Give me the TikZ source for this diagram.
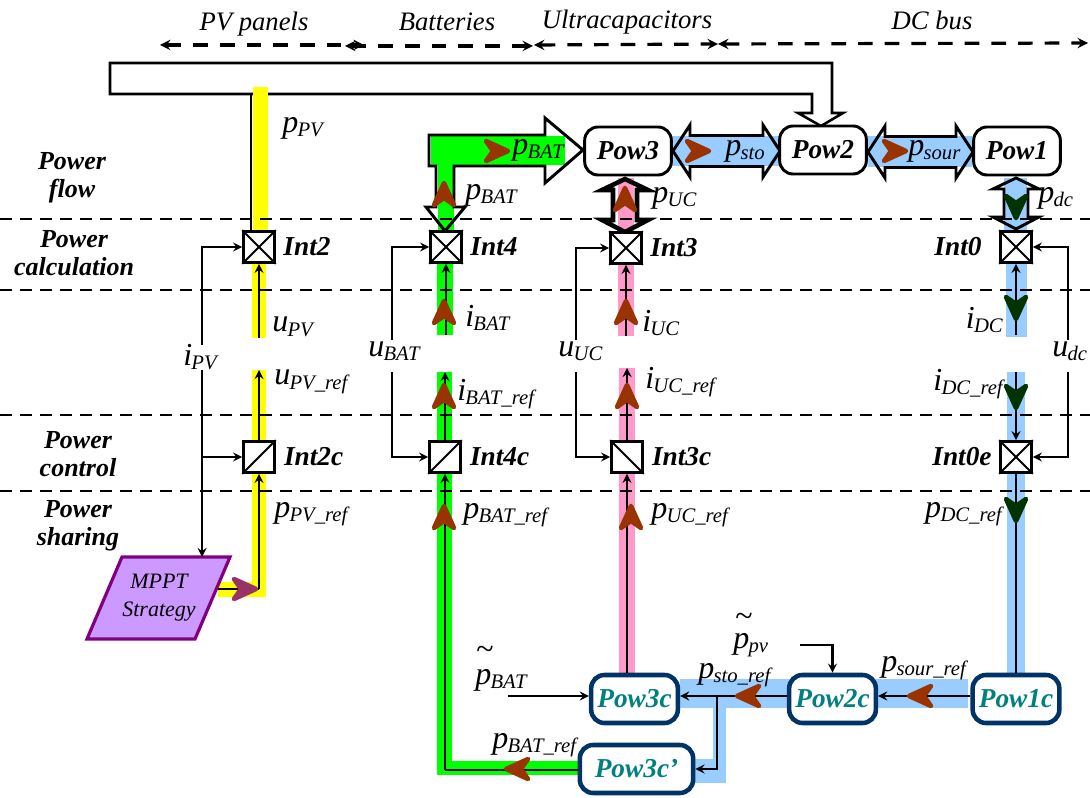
\documentclass[tikz,border=0pt]{standalone}
\usepackage{fontspec}
\setmainfont{Liberation Serif}
\definecolor{bandg}{HTML}{00FF00}
\definecolor{bandy}{HTML}{FFFF00}
\definecolor{bandb}{HTML}{99CCFF}
\definecolor{bandp}{HTML}{FF99CC}
\definecolor{tipbr}{HTML}{993300}
\definecolor{tipdg}{HTML}{003300}
\definecolor{tippu}{HTML}{993366}
\definecolor{navyc}{HTML}{003366}
\definecolor{tealc}{HTML}{008080}
\definecolor{mpptf}{HTML}{CC99FF}
\definecolor{mpptd}{HTML}{800080}
\newcommand{\sig}[2]{{\fontsize{24}{24}\selectfont\itshape #1\kern-0.5pt\raisebox{-0.3ex}{\fontsize{15.5}{15.5}\selectfont #2}}}
\newcommand{\flowtip}[4]{\draw[-,draw=#4,fill=#4,line width=3.4pt,line join=round,shift={(#1,#2)},rotate=#3] (11,0) -- (-11,-10) -- (-4,0) -- (-11,10) -- cycle;}
\newcommand{\dblh}[3]{\draw[outl] (#1,#3) -- ++(17,-26) -- ++(0,10.5) -- (#2-17,#3-15.5) -- ++(0,-10.5) -- (#2,#3) -- ++(-17,26) -- ++(0,-10.5) -- (#1+17,#3+15.5) -- ++(0,10.5) -- cycle;}
\newcommand{\dblv}[3]{\draw[outl] (#1,#2) -- ++(23,11) -- ++(-11,0) -- (#1+12,#3-12) -- ++(11,0) -- (#1,#3) -- ++(-23,-12) -- ++(11,0) -- (#1-12,#2+11) -- ++(-11,0) -- cycle;}
\begin{document}
\begin{tikzpicture}[->,>=stealth,x=0.75pt,y=-0.75pt,node distance=36pt,
  sigline/.style={line width=2pt},
  outl/.style={-,line width=2.2pt,line join=miter},
  sepline/.style={-,line width=2.1pt,dash pattern=on 9pt off 6pt},
  spanline/.style={<->,line width=2.4pt,dash pattern=on 11pt off 9pt},
  intbox/.style={draw,line width=2.2pt,fill=white,minimum size=23pt,inner sep=0pt},
  powbox/.style={draw,line width=2.2pt,fill=white,rounded corners=10pt,minimum width=65pt,minimum height=36pt,inner sep=0pt,font=\fontsize{20.5}{20.5}\selectfont\bfseries\itshape},
  ctrbox/.style={draw=navyc,line width=3.4pt,fill=white,rounded corners=10pt,minimum width=65pt,minimum height=36pt,inner sep=0pt,text=tealc,font=\fontsize{20.5}{20.5}\selectfont\bfseries\itshape},
  intlbl/.style={inner sep=0pt,font=\fontsize{20.5}{20.5}\selectfont\bfseries\itshape},
  laylbl/.style={inner sep=0pt,align=center,font=\fontsize{19.5}{21}\selectfont\bfseries\itshape},
  toplbl/.style={inner sep=0pt,font=\fontsize{20}{20}\selectfont\itshape},
  siglbl/.style={inner sep=0pt,anchor=west},
  tildelbl/.style={inner sep=0pt,font=\fontsize{24}{8}\selectfont}]
\useasboundingbox (0,0) rectangle (1090,798);
% big arrow from the PV panels
\draw[outl,line width=1.9pt] (110,63) -- (832,63) -- (832,113) -- (843,113) -- (821,126) -- (798,113) -- (812,113) -- (812,94) -- (110,94) -- cycle;
\draw[-,line width=1.9pt] (251,94) -- (251,232);
% bands
\fill[bandy] (253,87) rectangle (268,232);
\fill[bandy] (252,264) rectangle (266,338);
\fill[bandy] (252,370) rectangle (266,597);
\fill[bandy] (218,582) rectangle (266,597);
\fill[bandg] (431,136) rectangle (565,165);
\fill[bandg] (438,165) rectangle (454,232);
\fill[bandg] (437,264) rectangle (453,335);
\fill[bandg] (437,372) rectangle (452,775);
\fill[bandg] (437,761) rectangle (582,775);
\fill[bandp] (618,178) rectangle (634,336);
\fill[bandp] (619,368) rectangle (635,675);
\fill[bandb] (672,136) rectangle (780,166);
\fill[bandb] (868,136) rectangle (972,167);
\fill[bandb] (1004,178) rectangle (1027,232);
\fill[bandb] (1006,264) rectangle (1027,337);
\fill[bandb] (1007,372) rectangle (1025,675);
\fill[bandb] (680,679) rectangle (968,708);
\fill[bandb] (713,708) rectangle (726,783);
\fill[bandb] (690,759) rectangle (726,783);
% layers
\foreach \y in {219,290,415,491}
  \draw[sepline] (0,\y) -- (1090,\y);
\coordinate (sp0) at (160,45); \coordinate (sp1) at (364,45);
\coordinate (sp2) at (345,46); \coordinate (sp3) at (533,46);
\coordinate (sp4) at (534,45); \coordinate (sp5) at (718,44);
\coordinate (sp6) at (1088,43);
\draw[spanline] (sp0) -- (sp1); \draw[spanline] (sp2) -- (sp3);
\draw[spanline] (sp4) -- (sp5); \draw[spanline] (sp5) -- (sp6);
\node[toplbl] (tpv) at (254,24) {PV panels};
\node[toplbl] (tba) at (447,22) {Batteries};
\node[toplbl] (tuc) at (627,22) {Ultracapacitors};
\node[toplbl] (tdc) at (932,20) {DC bus};
\node[laylbl] (lflow) at (72,178) {Power\\flow};
\node[laylbl] (lcalc) at (74,253) {Power\\calculation};
\node[laylbl] (lctrl) at (78,454) {Power\\control};
\node[laylbl] (lshar) at (78,526) {Power\\sharing};
% outlined power arrows
\draw[outl] (429,135) -- (545,135) -- (545,118) -- (583,150) -- (545,183) -- (545,166) -- (454,166) -- (454,207) -- (465,207) -- (445,231) -- (426,207) -- (436,207) -- (436,166) -- (429,166) -- cycle;
\dblh{673}{780}{151}
\dblh{868}{973}{152}
\begin{scope}[outl/.append style={line width=3.4pt}]
\dblv{625}{179}{232}
\end{scope}
\dblv{1016}{178}{229}
% blocks
\node[powbox] (pow3) at (628,151) {Pow3};
\node[powbox] (pow2) at (823,150) {Pow2};
\node[powbox] (pow1) at (1017,151) {Pow1};
\node[intbox] (int2) at (259,247) {};
\node[intbox] (int4) at (446,247) {};
\node[intbox] (int3) at (626,248) {};
\node[intbox] (int0) at (1016,247) {};
\node[intbox] (int2c) at (259,457) {};
\node[intbox] (int4c) at (445,457) {};
\node[intbox] (int3c) at (627,457) {};
\node[intbox] (int0e) at (1016,457) {};
\foreach \b in {int2,int4,int3,int0,int0e} {
  \draw[-,line width=1.5pt] (\b.north west) -- (\b.south east);
  \draw[-,line width=1.5pt] (\b.south west) -- (\b.north east);
}
\foreach \b in {int2c,int4c}
  \draw[-,line width=1.5pt] (\b.south west) -- (\b.north east);
\draw[-,line width=1.5pt] (int3c.north west) -- (int3c.south east);
\node[intlbl,right of=int2] (nint2) {Int2};
\node[intlbl,right of=int4] (nint4) {Int4};
\node[intlbl,right of=int3] (nint3) {Int3};
\node[intlbl,left of=int0,node distance=43.5pt] (nint0) {Int0};
\node[intlbl,right of=int2c,node distance=41pt] (nint2c) {Int2c};
\node[intlbl,right of=int4c,node distance=41pt] (nint4c) {Int4c};
\node[intlbl,right of=int3c,node distance=41pt] (nint3c) {Int3c};
\node[intlbl,left of=int0e,node distance=40.5pt] (nint0e) {Int0e};
\node[ctrbox] (pow3c) at (634.5,699) {Pow3c};
\node[ctrbox] (pow2c) at (832.5,699) {Pow2c};
\node[ctrbox] (pow1c) at (1016,699) {Pow1c};
\node[ctrbox,minimum width=85pt] (pow3cp) at (636.5,769) {Pow3c'};
% MPPT
\draw[outl,draw=mpptd,fill=mpptf,line width=2.4pt,line join=miter] (122,557) -- (230,557) -- (195,639) -- (87,639) -- cycle;
\node[inner sep=0pt,align=center,font=\fontsize{16.5}{21}\selectfont\itshape] (mppt) at (159,598) {MPPT\\Strategy};
% signal lines
\coordinate (a2) at (259,338); \coordinate (a2r) at (259,370);
\coordinate (a4) at (446,335); \coordinate (a4r) at (445,372);
\coordinate (a3) at (626,336); \coordinate (a3r) at (627,368);
\coordinate (a0) at (1016,335); \coordinate (a0r) at (1016,372);
\coordinate (mp) at (218,589); \coordinate (mk) at (259,589);
\draw[sigline] (a2) -- (int2.south);
\draw[sigline] (int2c.north) -- (a2r);
\draw[sigline] (mk) -- (int2c.south);
\draw[-,sigline] (mp) -- (mk);
\draw[sigline] (a4) -- (int4.south);
\draw[sigline] (int4c.north) -- (a4r);
\draw[sigline] (a3) -- (int3.south);
\draw[sigline] (int3c.north) -- (a3r);
\draw[sigline] (a0) -- (int0.south);
\draw[sigline] (a0r) -- (int0e.north);
\draw[-,sigline] (pow1c.north) -- (int0e.south);
\draw[sigline] (pow3c.north -| int3c) -- (int3c.south);
\coordinate (k4) at (445,770);
\draw[-,sigline] (pow3cp.west |- k4) -- (k4);
\draw[sigline] (k4) -- (int4c.south);
\coordinate (ipv1) at (202,345); \coordinate (ipv2) at (202,370);
\coordinate (ipv3) at (202,457);
\draw[sigline] (ipv1) |- (int2.west);
\draw[sigline] (ipv2) -- (202,557);
\draw[sigline] (ipv3) -- (int2c.west);
\coordinate (ub1) at (392,340); \coordinate (ub2) at (392,372);
\draw[sigline] (ub1) |- (int4.west);
\draw[sigline] (ub2) |- (int4c.west);
\coordinate (uu1) at (576,340); \coordinate (uu2) at (576,372);
\draw[sigline] (uu1) |- (int3.west);
\draw[sigline] (uu2) |- (int3c.west);
\coordinate (ud1) at (1068,340); \coordinate (ud2) at (1068,372);
\draw[sigline] (ud1) |- (int0.east);
\draw[sigline] (ud2) |- (int0e.east);
\coordinate (br) at (717,696);
\draw[sigline] (pow1c.west |- br) -- (pow2c.east |- br);
\draw[sigline] (pow2c.west |- br) -- (pow3c.east |- br);
\draw[sigline] (br) |- (pow3cp.east);
\coordinate (pvin) at (800,645);
\draw[sigline] (pvin) -| (pow2c.north);
\coordinate (bin) at (508,696);
\draw[sigline] (bin) -- (pow3c.west |- bin);
% flow tips
\flowtip{497}{151}{0}{tipbr}
\flowtip{698}{151}{0}{tipbr}
\flowtip{895}{151}{0}{tipbr}
\flowtip{444}{194}{90}{tipbr}
\flowtip{625}{199}{90}{tipbr}
\flowtip{444}{312}{90}{tipbr}
\flowtip{626}{312}{90}{tipbr}
\flowtip{444}{396}{90}{tipbr}
\flowtip{627}{396}{90}{tipbr}
\flowtip{444}{517}{90}{tipbr}
\flowtip{631}{517}{90}{tipbr}
\flowtip{1016}{207}{-90}{tipdg}
\flowtip{1016}{308}{-90}{tipdg}
\flowtip{1016}{397}{-90}{tipdg}
\flowtip{1016}{510}{-90}{tipdg}
\flowtip{245}{589}{0}{tippu}
\flowtip{748}{696}{180}{tipbr}
\flowtip{920}{696}{180}{tipbr}
\flowtip{517}{769}{180}{tipbr}
% signal names
\node[siglbl] (lppv) at (282,128) {\sig{p}{PV}};
\node[siglbl] (lpb1) at (512,150) {\sig{p}{BAT}};
\node[siglbl] (lpb2) at (465,195) {\sig{p}{BAT}};
\node[siglbl] (lpuc) at (652,198) {\sig{p}{UC}};
\node[siglbl] (lpst) at (725,151) {\sig{p}{sto}};
\node[siglbl] (lpso) at (908,151) {\sig{p}{sour}};
\node[siglbl] (lpdc) at (1038,198) {\sig{p}{dc}};
\node[siglbl] (lupv) at (272,327) {\sig{u}{PV}};
\node[siglbl] (libt) at (465,318) {\sig{i}{BAT}};
\node[siglbl] (liuc) at (642,323) {\sig{i}{UC}};
\node[siglbl,anchor=east] (lidc) at (1003,320) {\sig{i}{DC}};
\node[siglbl] (lubt) at (368,351) {\sig{u}{BAT}};
\node[siglbl] (luuc) at (558,351) {\sig{u}{UC}};
\node[siglbl] (ludc) at (1052,351) {\sig{u}{dc}};
\node[siglbl] (lipv) at (183,357) {\sig{i}{PV}};
\node[siglbl] (luvr) at (274,382) {\sig{u}{PV\_ref}};
\node[siglbl] (libr) at (457,394) {\sig{i}{BAT\_ref}};
\node[siglbl] (liur) at (645,382) {\sig{i}{UC\_ref}};
\node[siglbl,anchor=east] (lidr) at (1003,384) {\sig{i}{DC\_ref}};
\node[siglbl] (lpvr) at (274,514) {\sig{p}{PV\_ref}};
\node[siglbl] (lpbr) at (463,515) {\sig{p}{BAT\_ref}};
\node[siglbl] (lpur) at (651,515) {\sig{p}{UC\_ref}};
\node[siglbl,anchor=east] (lpdr) at (1002,514) {\sig{p}{DC\_ref}};
\node[siglbl] (lpsr) at (698,675) {\sig{p}{sto\_ref}};
\node[siglbl] (lpor) at (881,668) {\sig{p}{sour\_ref}};
\node[siglbl] (lpbq) at (492,745) {\sig{p}{BAT\_ref}};
\node[siglbl] (lptb) at (475,680) {\sig{p}{BAT}};
\node[siglbl] (lptp) at (733,645) {\sig{p}{pv}};
\node[tildelbl] (tldb) at (485,653) {\char"7E};
\node[tildelbl] (tldp) at (744,620) {\char"7E};
\end{tikzpicture}
\end{document}
